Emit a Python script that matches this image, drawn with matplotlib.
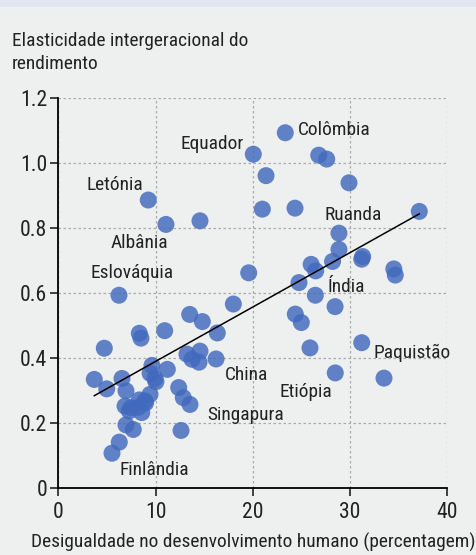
import numpy as np
import matplotlib
matplotlib.use("Agg")
import matplotlib.pyplot as plt
from matplotlib import font_manager as fm
from matplotlib.patches import Rectangle

# desigualdade no desenvolvimento humano (%) e elasticidade do rendimento
X_VALUES = [
	9.25, 11.07, 14.57, 20.05, 19.58, 6.24, 23.34, 26.78, 27.6, 21.36,
	29.89, 20.98, 24.34, 37.12, 28.86, 28.86, 28.2, 31.3, 31.2, 34.5,
	34.65, 26.0, 26.47, 24.75, 26.43, 28.46, 24.37, 24.99, 25.88, 31.2,
	28.48, 33.49, 18.0, 13.51, 14.81, 16.35, 10.94, 13.23, 14.57, 13.75,
	14.47, 16.22, 9.63, 11.21, 9.44, 9.94, 12.38, 12.85, 13.54, 12.62,
	9.43, 8.33, 8.5, 4.73, 3.70, 4.98, 6.55, 6.96, 8.33, 8.91,
	6.86, 7.3, 8.23, 8.58, 6.96, 7.71, 6.27, 5.52, 8.98, 7.48, 10.04,
]
Y_VALUES = [
	0.887, 0.812, 0.823, 1.028, 0.663, 0.594, 1.094, 1.025, 1.013, 0.962,
	0.940, 0.859, 0.862, 0.852, 0.785, 0.735, 0.698, 0.713, 0.705, 0.675,
	0.656, 0.689, 0.669, 0.633, 0.594, 0.559, 0.536, 0.510, 0.432, 0.448,
	0.355, 0.339, 0.567, 0.535, 0.513, 0.478, 0.485, 0.413, 0.422, 0.397,
	0.388, 0.398, 0.378, 0.366, 0.354, 0.338, 0.310, 0.279, 0.258, 0.178,
	0.289, 0.477, 0.462, 0.431, 0.335, 0.306, 0.338, 0.300, 0.272, 0.269,
	0.253, 0.238, 0.249, 0.233, 0.195, 0.181, 0.142, 0.108, 0.263, 0.248, 0.328,
]

# linha de tendência
TREND_SLOPE = 0.01674
TREND_INTERCEPT = 0.223

LABEL_TEXTS = ["Equador", "Colômbia", "Letónia", "Albânia", "Eslováquia", "Ruanda",
	"Índia", "Paquistão", "China", "Etiópia", "Singapura", "Finlândia"]
LABEL_X = [19.1, 24.68, 8.74, 8.37, 7.55, 30.33, 29.6, 32.46, 17.14, 25.42, 15.36, 9.89]
LABEL_Y = [1.059, 1.102, 0.933, 0.754, 0.662, 0.841, 0.619, 0.417, 0.349, 0.297, 0.2255, 0.0563]
LABEL_HA = ["right", "left", "right", "center", "center", "center",
	"center", "left", "left", "center", "left", "center"]

X_TICKS = [0, 10, 20, 30, 40]
Y_TICKS = [0, 0.2, 0.4, 0.6, 0.8, 1.0, 1.2]
Y_TICK_LABELS = ["0", "0.2", "0.4", "0.6", "0.8", "1.0", "1.2"]

XLABEL = "Desigualdade no desenvolvimento humano (percentagem)"
YLABEL_LINES = ["Elasticidade intergeracional do", "rendimento"]

BG = "#eef0ef"
DOT = "#4169bd"
TEXT = "#222222"


def pick_font() -> tuple[str, str]:
	entries = fm.fontManager.ttflist
	names = {f.name for f in entries}
	for cand in ["Liberation Sans Narrow", "Roboto Condensed", "Open Sans Condensed",
			"Noto Sans Condensed", "DejaVu Sans Condensed", "Arial Narrow"]:
		if cand in names:
			return cand, "normal"
	for f in entries:
		if "condensed" in str(f.stretch) and "Mono" not in f.name and "Serif" not in f.name:
			return f.name, "condensed"
	for f in entries:
		if ("Condensed" in f.name or "Narrow" in f.name) and "Mono" not in f.name:
			return f.name, "normal"
	return "Roboto", "normal"


FONT, STRETCH = pick_font()
plt.rcParams["font.family"] = [FONT, "DejaVu Sans"]
plt.rcParams["font.stretch"] = STRETCH

fig = plt.figure(figsize=(4.77, 5.55), dpi=100, facecolor=BG)
fig.patches.append(Rectangle((0, 1 - 7 / 555), 1, 7 / 555, transform=fig.transFigure,
	facecolor="#e2e6f0", edgecolor="none"))

# size the text so the x label spans the same width as in the reference (~447 px)
renderer = fig.canvas.get_renderer()
probe = fig.text(0, 0, XLABEL, fontsize=14)
width = probe.get_window_extent(renderer).width
probe.remove()
fs = min(14.5, 14 * 447 / width)

ax = fig.add_axes([58.3 / 477, 66.7 / 555, 389 / 477, 390 / 555])
ax.set_facecolor(BG)

ax.scatter(X_VALUES, Y_VALUES, s=150, color=DOT, alpha=0.82, edgecolors="none", zorder=3)

xs = np.array([min(X_VALUES), max(X_VALUES)])
ax.plot(xs, TREND_INTERCEPT + TREND_SLOPE * xs, color="black", lw=1.1, zorder=4)

for text, x, y, ha in zip(LABEL_TEXTS, LABEL_X, LABEL_Y, LABEL_HA):
	ax.text(x, y, text, ha=ha, va="center", fontsize=fs, color=TEXT, zorder=5)

ax.set_xlim(0, 40)
ax.set_ylim(0, 1.2)
ax.set_xticks(X_TICKS)
ax.set_xticklabels([str(t) for t in X_TICKS])
ax.set_yticks(Y_TICKS)
ax.set_yticklabels(Y_TICK_LABELS)
ax.tick_params(axis="both", labelsize=fs * 1.12, colors=TEXT, length=6, width=1.2)
ax.tick_params(axis="x", pad=4)
ax.tick_params(axis="y", pad=2)
ax.grid(True, linestyle=(0, (2, 2)), color="#aaaaaa", linewidth=0.9, zorder=0)
ax.set_axisbelow(True)
for side in ("top", "right"):
	ax.spines[side].set_visible(False)
for side in ("left", "bottom"):
	ax.spines[side].set_linewidth(1.3)
	ax.spines[side].set_color("black")

ax.set_xlabel(XLABEL, fontsize=fs, color=TEXT, labelpad=7)
fig.text(12 / 477, 1 - 45.7 / 555, YLABEL_LINES[0], fontsize=fs, color=TEXT,
	ha="left", va="baseline")
fig.text(12 / 477, 1 - 69.3 / 555, YLABEL_LINES[1], fontsize=fs, color=TEXT, ha="left", va="baseline")

fig.savefig("out.png", dpi=100, facecolor=BG)
